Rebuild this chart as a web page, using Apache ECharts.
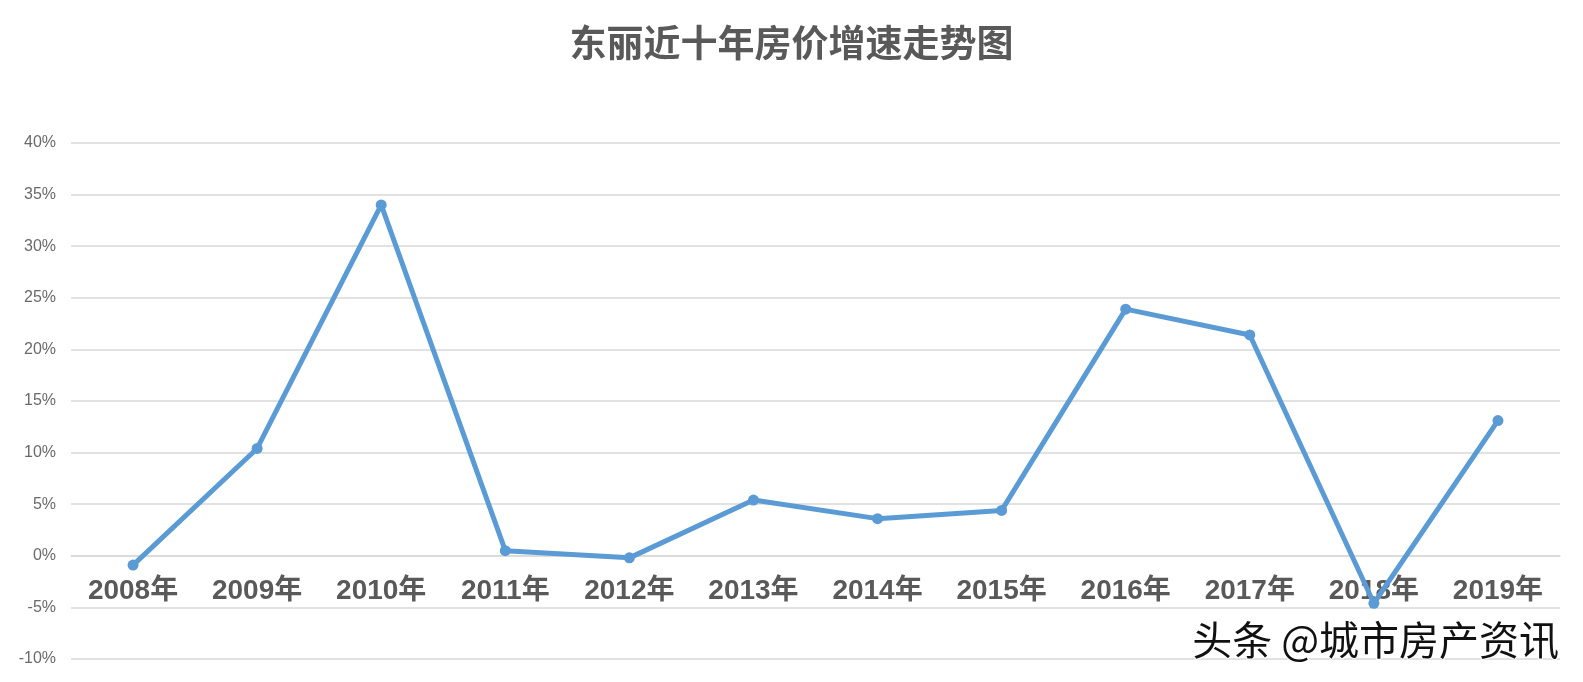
<!DOCTYPE html>
<html>
<head>
<meta charset="utf-8">
<script src="https://cdn.jsdelivr.net/npm/echarts@6/dist/echarts.min.js"></script>
<style>html,body{margin:0;padding:0;background:#fff;}#c{width:1583px;height:682px;}</style>
</head>
<body>
<div id="c"></div>
<script>
const categories = ['2008年','2009年','2010年','2011年','2012年','2013年','2014年','2015年','2016年','2017年','2018年','2019年'];
const growth = [-0.9, 10.4, 34.0, 0.5, -0.2, 5.4, 3.6, 4.4, 23.9, 21.4, -4.6, 13.1];
const titleText = '东丽近十年房价增速走势图';
const watermark = '头条 @城市房产资讯';
const yMin = -10, yMax = 40;

const gridTop = 143, gridBottom = 23, H = 682;
const gridH = H - gridTop - gridBottom;
const chart = echarts.init(document.getElementById('c'));
chart.setOption({
  backgroundColor: '#ffffff',
  animation: false,
  title: {
    text: titleText, left: 'center', top: 19,
    textStyle: { fontSize: 37, fontWeight: 'bold', color: '#595959', fontFamily: 'Noto Sans CJK SC' }
  },
  grid: { left: 71, right: 23, top: gridTop, bottom: gridBottom, containLabel: false, outerBoundsMode: 'none' },
  xAxis: {
    type: 'category', data: categories, boundaryGap: true,
    offset: -gridH * (0 - yMin) / (yMax - yMin),
    axisLine: { show: true, onZero: false, lineStyle: { color: '#d9d9d9', width: 1.5 } }, axisTick: { show: false },
    axisLabel: { fontSize: 28, fontWeight: 'bold', color: '#595959', margin: 21, fontFamily: 'Liberation Sans, Noto Sans CJK SC' }
  },
  yAxis: {
    type: 'value', min: yMin, max: yMax, interval: 5,
    axisLine: { show: false }, axisTick: { show: false },
    axisLabel: { formatter: '{value}%', fontSize: 16, color: '#6a6a6a', margin: 15, fontFamily: 'Liberation Sans' },
    splitLine: { lineStyle: { color: '#d9d9d9', width: 1.5 } }
  },
  graphic: [{
    type: 'text', right: 23, top: 619, z: 100,
    style: { text: watermark, fontSize: 40, fill: '#111', fontFamily: 'Noto Sans CJK SC',
      stroke: '#fff', lineWidth: 2, shadowColor: 'rgba(0,0,0,0.4)', shadowBlur: 2, shadowOffsetX: 1, shadowOffsetY: 1 }
  }],
  series: [{
    type: 'line', data: growth,
    symbol: 'circle', symbolSize: 11,
    lineStyle: { color: '#5B9BD5', width: 5 },
    itemStyle: { color: '#5B9BD5' }
  }]
});
</script>
</body>
</html>
